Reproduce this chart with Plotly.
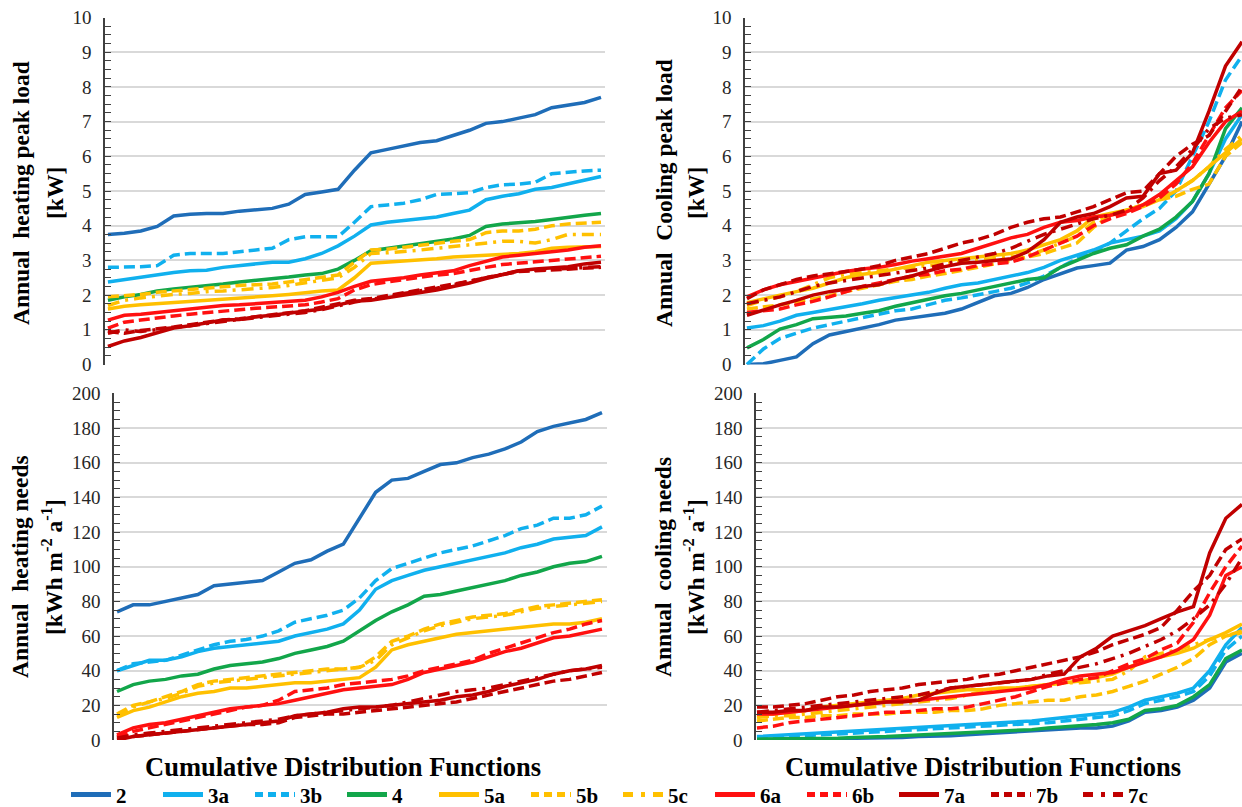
import plotly.graph_objects as go

# ---------------- data ----------------
rank = list(range(1, 32))  # ranked cases (CDF order)
series = ["2", "3a", "3b", "4", "5a", "5b", "5c", "6a", "6b", "7a", "7b", "7c"]

# Annual heating peak load [kW]
hp_2  = [3.75,3.78,3.85,3.98,4.28,4.33,4.35,4.35,4.42,4.45,4.5,4.62,4.9,4.97,5.05,5.6,6.1,6.2,6.3,6.4,6.45,6.6,6.75,6.95,7.0,7.1,7.2,7.4,7.48,7.55,7.7]
hp_3a = [2.38,2.45,2.52,2.6,2.65,2.7,2.72,2.8,2.85,2.9,2.95,2.95,3.05,3.2,3.42,3.7,4.02,4.1,4.15,4.2,4.25,4.35,4.45,4.75,4.85,4.92,5.05,5.1,5.2,5.3,5.42]
hp_3b = [2.8,2.8,2.82,2.85,3.15,3.2,3.2,3.2,3.25,3.3,3.35,3.6,3.68,3.68,3.68,4.1,4.55,4.6,4.65,4.75,4.9,4.92,4.95,5.1,5.18,5.2,5.25,5.5,5.55,5.58,5.6]
hp_4  = [1.85,1.95,2.02,2.12,2.18,2.22,2.28,2.32,2.38,2.42,2.47,2.52,2.58,2.62,2.75,3.0,3.28,3.35,3.42,3.5,3.55,3.62,3.72,3.98,4.05,4.08,4.12,4.18,4.25,4.3,4.35]
hp_5a = [1.6,1.68,1.72,1.75,1.78,1.82,1.85,1.88,1.9,1.95,1.98,2.02,2.08,2.12,2.15,2.5,2.92,2.95,2.98,3.0,3.05,3.1,3.12,3.15,3.18,3.2,3.25,3.35,3.38,3.4,3.4]
hp_5b = [1.95,1.98,2.02,2.08,2.12,2.18,2.2,2.25,2.28,2.3,2.32,2.38,2.45,2.52,2.58,2.95,3.3,3.32,3.38,3.45,3.5,3.55,3.6,3.8,3.85,3.85,3.9,4.0,4.05,4.08,4.1]
hp_5c = [1.7,1.85,1.92,1.98,2.02,2.05,2.1,2.12,2.15,2.2,2.22,2.28,2.35,2.42,2.5,2.8,3.2,3.22,3.25,3.3,3.35,3.4,3.45,3.5,3.55,3.55,3.5,3.6,3.75,3.75,3.75]
hp_6a = [1.28,1.42,1.45,1.5,1.55,1.6,1.65,1.7,1.72,1.75,1.78,1.8,1.85,1.95,2.08,2.25,2.4,2.45,2.5,2.58,2.65,2.7,2.85,2.98,3.1,3.15,3.2,3.25,3.3,3.38,3.42]
hp_6b = [1.05,1.22,1.28,1.35,1.4,1.45,1.5,1.55,1.58,1.62,1.66,1.7,1.72,1.8,1.9,2.15,2.3,2.38,2.45,2.5,2.58,2.62,2.72,2.8,2.88,2.92,2.98,3.0,3.05,3.1,3.12]
hp_7a = [0.52,0.68,0.78,0.92,1.05,1.12,1.2,1.28,1.3,1.38,1.42,1.48,1.52,1.6,1.72,1.82,1.85,1.92,2.0,2.08,2.15,2.25,2.35,2.48,2.6,2.7,2.75,2.78,2.82,2.9,2.95]
hp_7b = [0.95,0.9,0.98,1.02,1.08,1.15,1.22,1.28,1.32,1.38,1.42,1.48,1.55,1.65,1.75,1.85,1.9,1.98,2.08,2.15,2.22,2.3,2.4,2.5,2.6,2.68,2.7,2.72,2.75,2.78,2.8]
hp_7c = [0.9,1.0,0.95,1.0,1.05,1.12,1.18,1.25,1.3,1.35,1.4,1.45,1.5,1.58,1.7,1.8,1.88,1.95,2.05,2.12,2.2,2.3,2.4,2.52,2.62,2.7,2.72,2.75,2.78,2.8,2.82]

# Annual cooling peak load [kW]
cp_2  = [0.0,0.02,0.12,0.22,0.6,0.85,0.95,1.05,1.15,1.28,1.35,1.4,1.48,1.6,1.78,1.98,2.05,2.22,2.45,2.62,2.78,2.85,2.92,3.3,3.4,3.6,3.95,4.4,5.2,6.0,7.0]
cp_3a = [1.05,1.12,1.25,1.42,1.5,1.58,1.65,1.75,1.85,1.92,2.0,2.08,2.2,2.3,2.35,2.45,2.55,2.65,2.8,3.0,3.15,3.3,3.5,3.6,3.7,3.85,4.2,4.7,5.5,6.5,7.2]
cp_3b = [0.0,0.45,0.75,0.9,1.05,1.15,1.25,1.35,1.45,1.55,1.6,1.72,1.85,1.92,2.0,2.1,2.2,2.35,2.55,2.8,3.05,3.25,3.5,3.85,4.2,4.5,5.0,6.0,7.0,8.2,8.9]
cp_4  = [0.48,0.72,1.02,1.15,1.32,1.35,1.4,1.48,1.55,1.68,1.78,1.88,1.98,2.05,2.15,2.25,2.35,2.45,2.5,2.8,3.0,3.2,3.35,3.45,3.7,3.9,4.25,4.7,5.5,6.8,7.4]
cp_5a = [1.78,1.9,2.0,2.1,2.2,2.35,2.5,2.6,2.65,2.75,2.85,2.95,3.0,3.05,3.1,3.15,3.2,3.3,3.45,3.6,3.85,4.25,4.35,4.45,4.55,4.75,5.0,5.3,5.7,6.1,6.5]
cp_5b = [1.6,1.65,1.72,1.8,1.88,1.98,2.1,2.2,2.3,2.4,2.45,2.55,2.62,2.7,2.8,2.9,3.0,3.1,3.2,3.35,3.5,3.95,4.3,4.45,4.6,4.75,4.85,5.05,5.2,6.0,6.4]
cp_5c = [1.7,1.85,1.95,2.1,2.3,2.5,2.6,2.65,2.7,2.75,2.8,2.85,2.9,2.95,3.0,3.05,3.1,3.15,3.3,3.5,3.7,4.1,4.3,4.45,4.6,4.8,5.0,5.3,5.7,6.2,6.6]
cp_6a = [1.95,2.15,2.3,2.4,2.5,2.58,2.68,2.75,2.8,2.88,2.98,3.05,3.12,3.2,3.35,3.5,3.65,3.75,3.95,4.1,4.15,4.25,4.3,4.4,4.6,4.9,5.3,5.7,6.4,7.0,7.3]
cp_6b = [1.5,1.55,1.6,1.72,1.82,1.95,2.1,2.25,2.35,2.45,2.55,2.6,2.7,2.75,2.85,2.9,2.95,3.1,3.3,3.5,3.7,4.0,4.2,4.35,4.55,4.8,5.2,5.8,6.6,7.4,7.9]
cp_7a = [1.42,1.58,1.72,1.85,2.0,2.1,2.18,2.25,2.3,2.45,2.55,2.7,2.82,2.92,2.95,3.0,3.05,3.25,3.6,4.1,4.25,4.35,4.55,4.8,4.85,5.5,5.6,6.1,7.3,8.6,9.3]
cp_7b = [1.9,2.15,2.3,2.45,2.55,2.62,2.7,2.75,2.85,3.0,3.1,3.2,3.35,3.5,3.6,3.75,3.95,4.1,4.2,4.25,4.4,4.55,4.75,4.95,5.0,5.5,6.0,6.35,6.6,7.3,8.0]
cp_7c = [1.75,1.85,1.95,2.1,2.25,2.35,2.42,2.5,2.55,2.62,2.7,2.78,2.9,3.0,3.1,3.2,3.35,3.55,3.75,3.9,4.05,4.2,4.3,4.45,4.8,5.3,5.7,6.2,6.8,7.1,7.2]

# Annual heating needs [kWh m-2 a-1]
hn_2  = [74,78,78,80,82,84,89,90,91,92,97,102,104,109,113,128,143,150,151,155,159,160,163,165,168,172,178,181,183,185,189]
hn_3a = [40,43,46,46,48,51,53,54,55,56,57,60,62,64,67,75,87,92,95,98,100,102,104,106,108,111,113,116,117,118,123]
hn_3b = [40,44,45,46,49,52,55,57,58,60,63,68,70,72,75,82,92,99,102,105,108,110,112,115,118,122,124,128,128,130,135]
hn_4  = [28,32,34,35,37,38,41,43,44,45,47,50,52,54,57,63,69,74,78,83,84,86,88,90,92,95,97,100,102,103,106]
hn_5a = [13,17,19,22,25,27,28,30,30,31,32,33,33,34,35,36,42,52,55,57,59,61,62,63,64,65,66,67,67,68,70]
hn_5b = [15,20,22,25,28,32,34,35,36,37,38,39,40,41,41,42,48,57,60,64,67,69,71,72,73,75,77,78,79,80,81]
hn_5c = [14,19,22,24,27,31,33,34,35,36,37,38,39,40,41,42,46,55,59,63,66,68,70,71,72,74,76,77,78,79,80]
hn_6a = [3,7,9,10,12,14,16,18,19,20,21,23,25,27,29,30,31,32,35,39,41,43,45,48,51,53,56,59,60,62,64]
hn_6b = [2,5,7,9,11,13,15,17,19,20,23,28,29,30,32,33,34,35,37,40,42,44,46,50,53,56,59,62,64,67,69]
hn_7a = [0,2,3,4,5,6,7,8,9,10,11,14,15,16,18,19,19,20,21,22,23,25,26,28,31,33,35,38,40,41,43]
hn_7b = [1,2,3,4,5,6,7,8,9,9,10,13,14,15,15,16,17,18,19,20,21,22,24,26,28,30,32,34,35,37,39]
hn_7c = [1,3,4,5,6,7,8,9,10,11,12,14,15,16,17,18,19,20,22,24,26,28,29,30,32,34,36,38,40,41,42]

# Annual cooling needs [kWh m-2 a-1]
cn_2  = [0,0,0,0,0.5,0.5,1,1,1,1.5,2,2,2.5,3,3.5,4,5,5.5,6,6.5,7,7,8,11,16,17,19,23,30,45,50]
cn_3a = [2,2.5,3,3.5,4,4.5,5,5.5,6,6.5,7,7.5,8,8.5,9,10,10.5,11,12,13,14,15,16,19,23,25,27,30,40,55,65]
cn_3b = [1,1.5,2,2.5,3,3.5,4,4.5,5,5.5,6,6.5,7,7.5,8,8.5,9,9.5,10,11,12,13,14,17,21,23,25,28,37,52,60]
cn_4  = [0.5,0.5,0.5,0.5,1,1,1.5,1.5,2,2.5,3,3,3.5,4,4.5,5,5.5,6,7,7.5,8,9,10,12,17,18,20,25,32,47,52]
cn_5a = [15,15,16,17,19,20,21,22,23,24,26,27,28,29,29,30,30,31,32,33,34,36,38,42,46,48,50,53,58,62,67]
cn_5b = [11,12,13,13,14,14,15,15,15,16,16,16,17,17,18,20,21,22,23,23,25,26,28,31,34,38,42,47,55,60,62]
cn_5c = [13,14,14,15,16,17,18,19,20,21,22,23,24,26,28,29,30,31,32,33,33,34,35,40,48,50,52,55,58,60,63]
cn_6a = [15,15,16,17,18,19,20,21,22,23,23,24,25,26,27,28,29,30,32,35,37,38,39,42,45,48,52,58,72,95,100]
cn_6b = [7,8,10,11,12,13,14,15,16,16,17,18,18,19,21,23,25,28,31,33,35,36,40,44,47,52,56,68,85,100,112]
cn_7a = [16,16,17,17,19,19,20,21,22,22,23,27,30,31,32,33,34,35,37,38,48,53,60,63,66,70,74,77,108,128,136]
cn_7b = [19,19,20,21,23,25,26,28,29,30,32,33,34,35,37,38,40,42,44,46,48,51,55,58,61,65,75,86,95,110,116]
cn_7c = [16,17,18,19,20,21,22,23,24,25,26,28,30,31,32,33,34,35,38,40,42,44,47,50,54,58,63,70,78,90,105]

heat_peak = [hp_2, hp_3a, hp_3b, hp_4, hp_5a, hp_5b, hp_5c, hp_6a, hp_6b, hp_7a, hp_7b, hp_7c]
cool_peak = [cp_2, cp_3a, cp_3b, cp_4, cp_5a, cp_5b, cp_5c, cp_6a, cp_6b, cp_7a, cp_7b, cp_7c]
heat_need = [hn_2, hn_3a, hn_3b, hn_4, hn_5a, hn_5b, hn_5c, hn_6a, hn_6b, hn_7a, hn_7b, hn_7c]
cool_need = [cn_2, cn_3a, cn_3b, cn_4, cn_5a, cn_5b, cn_5c, cn_6a, cn_6b, cn_7a, cn_7b, cn_7c]

# ---------------- styles ----------------
C_DBLUE, C_LBLUE, C_GREEN, C_YEL, C_RED, C_DRED = "#1F6DB8", "#10B0EE", "#12A64A", "#FFC000", "#FF1010", "#C00000"
colors = [C_DBLUE, C_LBLUE, C_LBLUE, C_GREEN, C_YEL, C_YEL, C_YEL, C_RED, C_RED, C_DRED, C_DRED, C_DRED]
DASH = "11px,5px"
DASHDOT = "12px,6px,3px,6px"
dashes = ["solid", "solid", DASH, "solid", "solid", DASH, DASHDOT, "solid", DASH, "solid", DASH, DASHDOT]

SERIF = "Liberation Serif, Times New Roman, serif"
GRID = "#d9d9d9"
AXC = "#404040"

fig = go.Figure()

panels = [
    (heat_peak, "x", "y"),
    (cool_peak, "x2", "y2"),
    (heat_need, "x3", "y3"),
    (cool_need, "x4", "y4"),
]
for data, xa, ya in panels:
    for name, vals, col, dsh in zip(series, data, colors, dashes):
        fig.add_trace(go.Scatter(
            x=rank, y=vals, name=name, mode="lines",
            line=dict(color=col, width=3.5, dash=dsh),
            xaxis=xa, yaxis=ya, legendgroup=name, showlegend=False,
        ))

# legend entries (thicker key lines, no data of their own)
LEG_DASH = ["solid", "solid", "8px,5px", "solid", "solid", "8px,5px", "10px,8px,4px,8px",
            "solid", "8px,5px", "solid", "8px,5px", "10px,8px,4px,8px"]
for name, col, dsh in zip(series, colors, LEG_DASH):
    fig.add_trace(go.Scatter(
        x=[None], y=[None], name=name, mode="lines",
        line=dict(color=col, width=5, dash=dsh),
        xaxis="x", yaxis="y", legendgroup=name, showlegend=True,
    ))

def xax(domain, rng, anchor):
    return dict(domain=domain, range=rng, anchor=anchor, showticklabels=False,
                showgrid=False, zeroline=False, showline=False, ticks="")

def yax(domain, rng, dtick, minor, anchor):
    return dict(domain=domain, range=rng, dtick=dtick, anchor=anchor,
                showgrid=True, gridcolor=GRID, gridwidth=1.5, zeroline=False,
                showline=True, linecolor=AXC, linewidth=1.5,
                ticks="inside", ticklen=6, tickcolor=AXC, tickwidth=1.2,
                ticklabelstandoff=8, automargin=False,
                minor=dict(ticks="inside", dtick=minor, ticklen=6, tickcolor=AXC, tickwidth=1.2, showgrid=False),
                tickfont=dict(family=SERIF, size=19, color="#262626"))

fig.update_layout(
    width=1242, height=807,
    margin=dict(l=0, r=0, t=0, b=0, autoexpand=False),
    paper_bgcolor="white", plot_bgcolor="white",
    xaxis=xax([0.0845, 0.4871], [0.818, 31.242], "y"),
    yaxis=yax([0.5483, 0.9783], [0, 10], 1, 0.25, "x"),
    xaxis2=xax([0.5998, 1.0], [0.88, 31.0], "y2"),
    yaxis2=yax([0.5483, 0.9783], [0, 10], 1, 0.25, "x2"),
    xaxis3=xax([0.0918, 0.4887], [0.814, 31.309], "y3"),
    yaxis3=yax([0.0830, 0.5124], [0, 200], 20, 5, "x3"),
    xaxis4=xax([0.6087, 1.0], [0.94, 31.0], "y4"),
    yaxis4=yax([0.0830, 0.5124], [0, 200], 20, 5, "x4"),
    legend=dict(orientation="h", x=66 / 1242, xanchor="left", y=0.015, yanchor="middle",
                font=dict(family=SERIF, size=21, color="black", weight="bold"),
                itemwidth=40, entrywidth=37, tracegroupgap=0, bgcolor="rgba(0,0,0,0)"),
    showlegend=True,
)

def ytitle(text, x, y):
    fig.add_annotation(text=text, x=x, y=y, xref="paper", yref="paper", showarrow=False,
                       textangle=-90, xanchor="center", yanchor="middle",
                       font=dict(family=SERIF, size=23.5, color="black", weight="bold"))

H = 1242.0
V = 807.0
ytitle("Annual  heating peak load", 21 / H, 1 - 193 / V)
ytitle("[kW]", 55 / H, 1 - 193 / V)
ytitle("Annual  Cooling peak load", 664 / H, 1 - 193 / V)
ytitle("[kW]", 696 / H, 1 - 193 / V)
ytitle("Annual  heating needs", 20 / H, 1 - 567 / V)
ytitle("[kWh m<sup>-2</sup> a<sup>-1</sup>]", 52 / H, 1 - 567 / V)
ytitle("Annual  cooling needs", 663 / H, 1 - 567 / V)
ytitle("[kWh m<sup>-2</sup> a<sup>-1</sup>]", 694 / H, 1 - 567 / V)

for cx in (343, 983):
    fig.add_annotation(text="Cumulative Distribution Functions", x=cx / H, y=1 - 767 / V,
                       xref="paper", yref="paper", showarrow=False, xanchor="center", yanchor="middle",
                       font=dict(family=SERIF, size=26.5, color="black", weight="bold"))

fig.write_html("out.html", config={"displayModeBar": False},
               post_script="document.body.style.margin='0';document.body.style.overflow='hidden';")
